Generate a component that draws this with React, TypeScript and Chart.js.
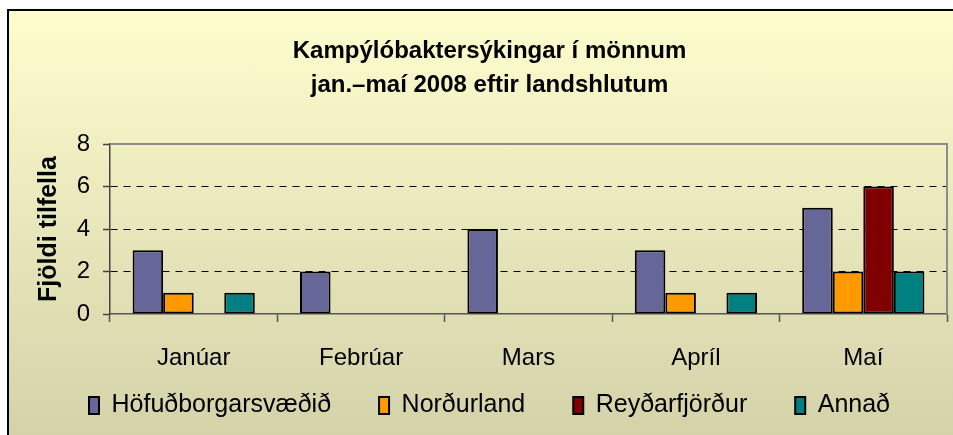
import React, { useEffect, useRef } from 'react';
import { Chart, registerables } from 'chart.js';

Chart.register(...registerables);

const titleLines = ['Kampýlóbaktersýkingar í mönnum', 'jan.–maí 2008 eftir landshlutum'];
const yAxisTitle = 'Fjöldi tilfella';
const months = ['Janúar', 'Febrúar', 'Mars', 'Apríl', 'Maí'];
const seriesNames = ['Höfuðborgarsvæðið', 'Norðurland', 'Reyðarfjörður', 'Annað'];
const hofudborgarsvaedid = [3, 2, 4, 3, 5];
const nordurland = [1, 0, 0, 1, 2];
const reydarfjordur = [0, 0, 0, 0, 6];
const annad = [1, 0, 0, 1, 2];
const seriesColors = ['#666699', '#FF9900', '#800000', '#008080'];
const yMin = 0;
const yMax = 8;
const yStep = 2;

const FONT = "'Liberation Sans', Arial, sans-serif";
const LEGEND_GAP = 31;

const plotFrame = {
  id: 'plotFrame',
  beforeDatasetsDraw(chart: any) {
    const { ctx, chartArea } = chart;
    const { left, right, top, bottom } = chartArea;
    ctx.save();
    ctx.strokeStyle = '#8c8c8c';
    ctx.lineWidth = 2;
    ctx.beginPath();
    ctx.moveTo(left, top);
    ctx.lineTo(right, top);
    ctx.lineTo(right, bottom);
    ctx.stroke();
    ctx.restore();
  },
};

const legendPlacement = {
  id: 'legendPlacement',
  afterLayout(chart: any) {
    const lg = chart.legend;
    if (!lg) return;
    lg.top = chart.chartArea.bottom + LEGEND_GAP;
    lg.bottom = chart.height;
    lg.height = lg.bottom - lg.top;
  },
};

export default function App() {
  const canvasRef = useRef<HTMLCanvasElement | null>(null);

  useEffect(() => {
    if (!canvasRef.current) return;
    const values = [hofudborgarsvaedid, nordurland, reydarfjordur, annad];
    const chart = new Chart(canvasRef.current, {
      type: 'bar',
      data: {
        labels: months,
        datasets: values.map((v, i) => ({
          label: seriesNames[i],
          data: v,
          backgroundColor: seriesColors[i],
          borderColor: '#000000',
          borderWidth: 2,
          borderSkipped: false,
          categoryPercentage: 0.73,
          barPercentage: 1,
        })),
      },
      options: {
        responsive: false,
        animation: false,
        events: [],
        font: { family: FONT },
        layout: { padding: { left: 32, right: 6, top: 10, bottom: 6 } },
        plugins: {
          tooltip: { enabled: false },
          title: {
            display: true,
            text: titleLines,
            color: '#000000',
            font: { family: FONT, size: 24, weight: 'bold', lineHeight: 34 / 24 },
            padding: { top: 24, bottom: 42 },
          },
          legend: {
            display: true,
            position: 'bottom',
            maxHeight: 55,
            labels: {
              color: '#000000',
              font: { family: FONT, size: 25 },
              boxWidth: 10,
              boxHeight: 17,
              padding: 48,
            },
          },
        },
        scales: {
          x: {
            offset: true,
            afterFit: (scale: any) => {
              scale.height = 60;
            },
            grid: {
              offset: true,
              drawOnChartArea: false,
              drawTicks: true,
              tickLength: 8,
              tickColor: '#555555',
              tickWidth: 1.5,
            },
            border: { display: true, color: '#555555', width: 1.5 },
            ticks: {
              color: '#000000',
              font: { family: FONT, size: 24 },
              padding: 22,
              maxRotation: 0,
              autoSkip: false,
            },
          },
          y: {
            min: yMin,
            max: yMax,
            afterFit: (scale: any) => {
              scale.width = 78;
            },
            ticks: {
              stepSize: yStep,
              color: '#000000',
              font: { family: FONT, size: 24 },
              padding: 13,
            },
            grid: {
              color: (ctx: any) =>
                ctx.tick && (ctx.tick.value === yMin || ctx.tick.value === yMax)
                  ? 'rgba(0,0,0,0)'
                  : '#000000',
              lineWidth: 1,
              drawTicks: true,
              tickLength: 7,
              tickColor: '#444444',
              tickWidth: 1.5,
            },
            border: { display: true, color: '#444444', width: 1.5, dash: [7, 6] },
            title: {
              display: true,
              text: yAxisTitle,
              color: '#000000',
              font: { family: FONT, size: 25, weight: 'bold' },
              padding: { top: 2, bottom: 0 },
            },
          },
        },
      },
      plugins: [plotFrame, legendPlacement],
    });
    return () => chart.destroy();
  }, []);

  return (
    <div style={{ position: 'absolute', left: 0, top: 0, width: 953, height: 435, background: '#ffffff', overflow: 'hidden' }}>
      <div
        style={{
          position: 'absolute',
          left: 7,
          top: 9,
          width: 946,
          height: 426,
          boxSizing: 'border-box',
          borderLeft: '2px solid #000',
          borderTop: '2px solid #000',
          background: 'linear-gradient(to bottom, #FEFDCE, #D3D2A9)',
        }}
      />
      <canvas
        ref={canvasRef}
        width={953}
        height={435}
        style={{ position: 'absolute', left: 0, top: 0, display: 'block' }}
      />
    </div>
  );
}
